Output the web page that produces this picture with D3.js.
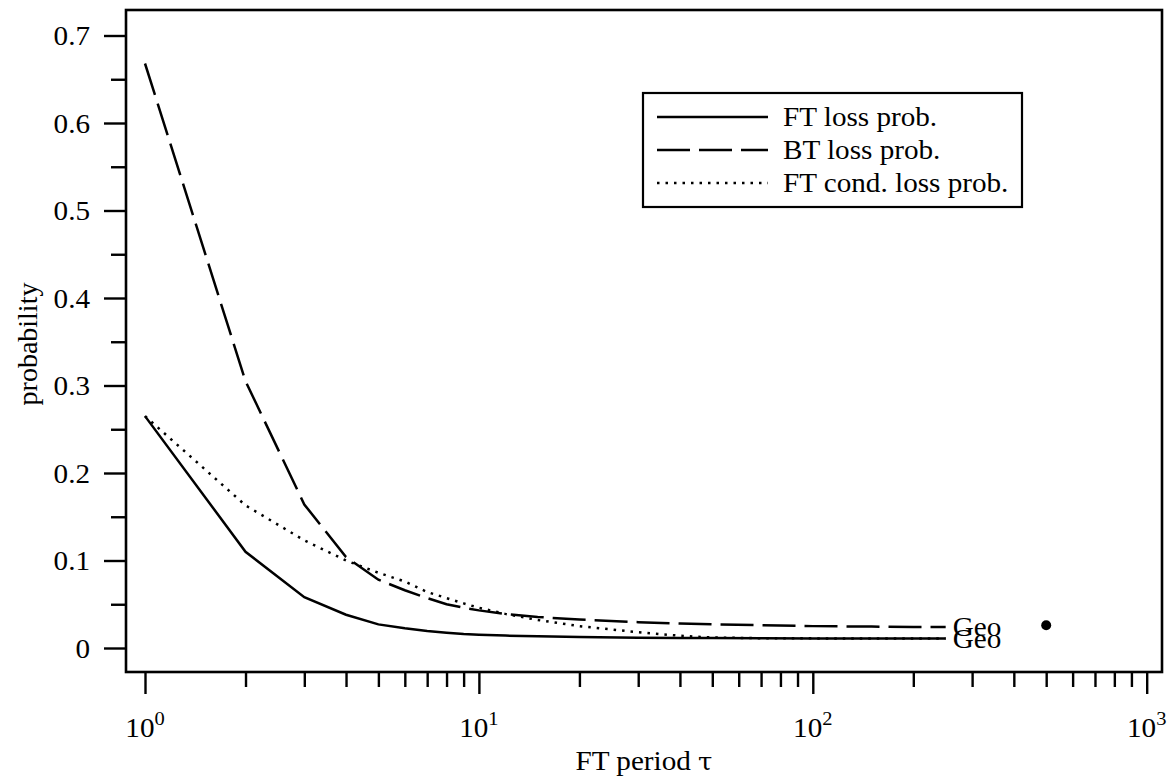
<!DOCTYPE html>
<html>
<head>
<meta charset="utf-8">
<script src="https://cdn.jsdelivr.net/npm/d3@7"></script>
<style>
  html, body { margin: 0; padding: 0; background: #fff; }
  svg { display: block; }
  text { font-family: "Liberation Serif", "Times New Roman", serif; fill: #000; }
</style>
</head>
<body>
<svg id="chart" width="1175" height="780"></svg>
<script>
// ---- data ----
const periods = [1, 2, 3, 4, 5, 6, 7, 8, 9, 10, 12, 15, 20, 30, 40, 50, 70, 100, 150, 200, 250];
const ftLoss  = [0.265, 0.110, 0.058, 0.038, 0.027, 0.0225, 0.0195, 0.0175, 0.016, 0.0152, 0.0142, 0.0133, 0.0125, 0.0118, 0.0115, 0.0113, 0.0112, 0.011, 0.011, 0.011, 0.011];
const btLoss  = [0.668, 0.305, 0.164, 0.104, 0.078, 0.066, 0.057, 0.050, 0.046, 0.043, 0.039, 0.0355, 0.0325, 0.0295, 0.028, 0.027, 0.026, 0.025, 0.0245, 0.024, 0.024];
const ftCond  = [0.265, 0.163, 0.123, 0.100, 0.086, 0.076, 0.064, 0.057, 0.051, 0.046, 0.039, 0.032, 0.025, 0.018, 0.014, 0.012, 0.0112, 0.011, 0.011, 0.011, 0.011];
const seriesNames = ["FT loss prob.", "BT loss prob.", "FT cond. loss prob."];
const geoPoint = { x: 500, y: 0.026 };
const geoLabel = "Geo";
const yTicksMajor = [0, 0.1, 0.2, 0.3, 0.4, 0.5, 0.6, 0.7];
const yTicksMinor = [0.05, 0.15, 0.25, 0.35, 0.45, 0.55, 0.65];
const xTickExponents = [0, 1, 2, 3];
const xLabel = "FT period ";
const xLabelSym = "τ";
const yLabel = "probability";

// ---- layout ----
const svg = d3.select("#chart");
const frame = { left: 126, right: 1162, top: 10, bottom: 672 };
const x = d3.scaleLog().domain([1, 1000]).range([145, 1146.7]);
const y = d3.scaleLinear().domain([0, 0.7]).range([648, 35.5]);
const FS = 27;      // font size
const SX = 1.08;    // horizontal stretch of glyphs seen in the reference

function placeText(sel, px, py) {
  return sel.attr("x", 0).attr("y", 0)
    .attr("transform", `translate(${px},${py}) scale(${SX},1)`);
}

// frame
svg.append("rect")
  .attr("x", frame.left).attr("y", frame.top)
  .attr("width", frame.right - frame.left).attr("height", frame.bottom - frame.top)
  .attr("fill", "none").attr("stroke", "#000").attr("stroke-width", 2.6);

// y axis ticks
const yAxisMajor = d3.axisLeft(y).tickValues(yTicksMajor).tickSize(22).tickPadding(13)
  .tickFormat(d => d === 0 ? "0" : d3.format(".1f")(d));
const gy = svg.append("g").attr("transform", `translate(${frame.left},0)`).call(yAxisMajor);
gy.select(".domain").remove();
gy.selectAll("line").attr("stroke", "#000").attr("stroke-width", 2.4);
gy.selectAll("text")
  .style("font-size", FS + "px")
  .style("font-family", '"Liberation Serif", serif')
  .attr("dy", "0.35em")
  .attr("x", 0)
  .attr("transform", `translate(-36,0) scale(${SX},1)`);

const gyMinor = svg.append("g").attr("transform", `translate(${frame.left},0)`)
  .call(d3.axisLeft(y).tickValues(yTicksMinor).tickSize(15).tickFormat(""));
gyMinor.select(".domain").remove();
gyMinor.selectAll("line").attr("stroke", "#000").attr("stroke-width", 2.4);

// x axis ticks
const xMajor = xTickExponents.map(e => Math.pow(10, e));
const xMinor = [];
for (let e = 0; e < 3; e++) for (let m = 2; m <= 9; m++) xMinor.push(m * Math.pow(10, e));

const gxMinor = svg.append("g").attr("transform", `translate(0,${frame.bottom})`)
  .call(d3.axisBottom(x).tickValues(xMinor).tickSize(15).tickFormat(""));
gxMinor.select(".domain").remove();
gxMinor.selectAll("line").attr("stroke", "#000").attr("stroke-width", 2.4);

const gxMajor = svg.append("g").attr("transform", `translate(0,${frame.bottom})`)
  .call(d3.axisBottom(x).tickValues(xMajor).tickSize(22).tickFormat(""));
gxMajor.select(".domain").remove();
gxMajor.selectAll("line").attr("stroke", "#000").attr("stroke-width", 2.4);

// x tick labels with superscripts
xTickExponents.forEach(e => {
  const t = placeText(svg.append("text"), x(Math.pow(10, e)), 737)
    .attr("text-anchor", "middle").style("font-size", FS + "px");
  t.append("tspan").text("10");
  t.append("tspan").attr("dy", -12).style("font-size", "19px").text(String(e));
});

// axis labels
const xl = placeText(svg.append("text"), (frame.left + frame.right) / 2, 770)
  .attr("text-anchor", "middle").style("font-size", FS + "px");
xl.append("tspan").text(xLabel);
xl.append("tspan").style("font-family", '"DejaVu Serif", "Liberation Serif", serif').style("font-size", "24px").text(xLabelSym);

svg.append("text")
  .attr("transform", `translate(37,${(frame.top + frame.bottom) / 2 + 3}) rotate(-90)`)
  .attr("text-anchor", "middle").style("font-size", "28px").text(yLabel);

// series
const styles = [
  { values: ftLoss, dash: null },
  { values: btLoss, dash: "33,9" },
  { values: ftCond, dash: "2.5,6" }
];
const line = d3.line().x(d => x(d[0])).y(d => y(d[1]));
styles.forEach(s => {
  svg.append("path")
    .datum(periods.map((p, i) => [p, s.values[i]]))
    .attr("d", line)
    .attr("fill", "none").attr("stroke", "#000").attr("stroke-width", 2.5)
    .attr("stroke-dasharray", s.dash);
});

// Geo labels at end of BT and FT lines
const lastIdx = periods.length - 1;
[btLoss[lastIdx], ftLoss[lastIdx]].forEach(v => {
  placeText(svg.append("text"), x(periods[lastIdx]) + 7, y(v))
    .attr("dy", "0.35em").style("font-size", FS + "px").text(geoLabel);
});

// Geo point
svg.append("circle").attr("cx", x(geoPoint.x)).attr("cy", y(geoPoint.y)).attr("r", 5).attr("fill", "#000");

// legend
const lg = svg.append("g");
lg.append("rect").attr("x", 643).attr("y", 93).attr("width", 379).attr("height", 114)
  .attr("fill", "#fff").attr("stroke", "#000").attr("stroke-width", 2.2);
const rowsY = [117, 150, 183];
styles.forEach((s, i) => {
  lg.append("line").attr("x1", 657).attr("x2", 768).attr("y1", rowsY[i]).attr("y2", rowsY[i])
    .attr("stroke", "#000").attr("stroke-width", 2.5).attr("stroke-dasharray", s.dash);
  placeText(lg.append("text"), 783, rowsY[i])
    .attr("dy", "0.35em").style("font-size", FS + "px").text(seriesNames[i]);
});
</script>
</body>
</html>
